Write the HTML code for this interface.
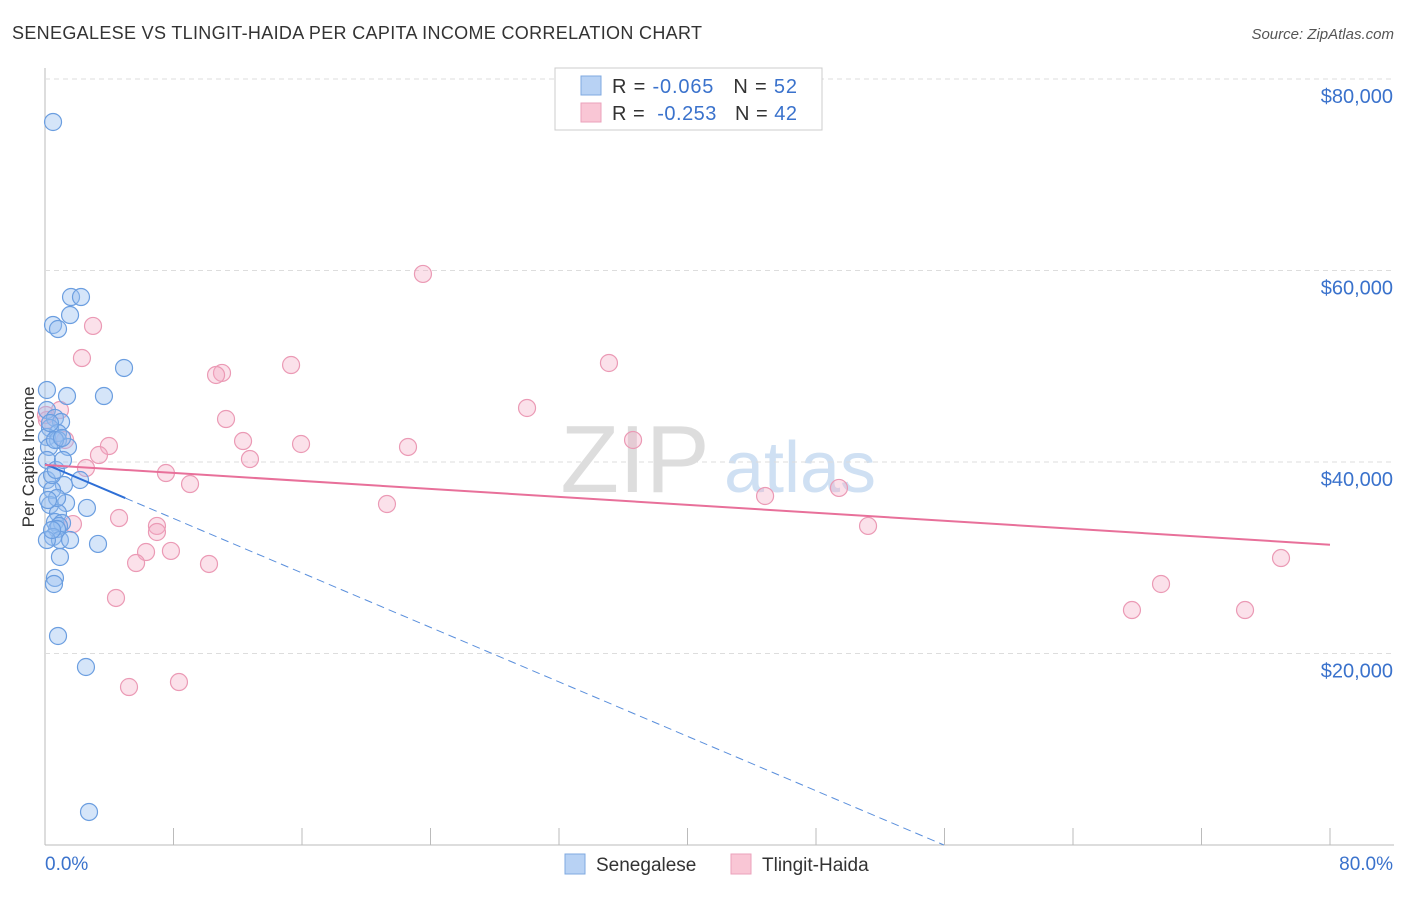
<!DOCTYPE html>
<html><head><meta charset="utf-8"><style>
body{margin:0;background:#fff;font-family:"Liberation Sans",sans-serif;}
svg text{font-family:"Liberation Sans",sans-serif;}
</style></head><body>
<svg id="c" width="1406" height="892">
<text x="12" y="39" font-size="18" fill="#333" textLength="690">SENEGALESE VS TLINGIT-HAIDA PER CAPITA INCOME CORRELATION CHART</text>
<text x="1394" y="39" font-size="15" fill="#555" font-style="italic" text-anchor="end">Source: ZipAtlas.com</text>
<text x="34" y="457" font-size="17" fill="#333" text-anchor="middle" transform="rotate(-90 34 457)">Per Capita Income</text>
<text x="635" y="492" font-size="96" fill="#ddd" font-family="Liberation Serif" text-anchor="middle">ZIP</text>
<text x="800" y="492" font-size="72" fill="#cfe0f3" text-anchor="middle">atlas</text>
<g id="grid"></g><g id="marks"></g>
<g>
<rect x="555" y="68" width="267" height="62" fill="#fff" stroke="#ccc"/>
<rect x="581" y="76" width="20" height="19" fill="#b8d2f4" stroke="#7fa9e0"/>
<rect x="581" y="103" width="20" height="19" fill="#f9c6d5" stroke="#eba2bb"/>
<text x="612" y="93" font-size="20" fill="#333" textLength="185">R = <tspan fill="#3a72cc">-0.065</tspan>&#160;&#160;&#160;N = <tspan fill="#3a72cc">52</tspan></text>
<text x="612" y="120" font-size="20" fill="#333" textLength="185">R = &#160;<tspan fill="#3a72cc">-0.253</tspan>&#160;&#160;&#160;N = <tspan fill="#3a72cc">42</tspan></text>
</g>
<g>
<rect x="565" y="854" width="20" height="20" fill="#b8d2f4" stroke="#7fa9e0"/>
<text x="596" y="871" font-size="19" fill="#333">Senegalese</text>
<rect x="731" y="854" width="20" height="20" fill="#f9c6d5" stroke="#eba2bb"/>
<text x="762" y="871" font-size="19" fill="#333">Tlingit-Haida</text>
</g>
</svg>
<script>
const yTicks=[20000,40000,60000,80000];
const yTickLabels=["$20,000","$40,000","$60,000","$80,000"];
const xTicks=[0,8,16,24,32,40,48,56,64,72,80];
const xEndLabels=["0.0%","80.0%"];
const blueX=[0.5,1.62,2.24,1.56,0.5,0.81,4.92,0.12,1.37,3.67,0.12,0.62,1.0,0.31,0.81,0.12,0.81,1.43,0.25,0.12,0.12,2.18,1.18,0.44,1.31,0.31,2.61,0.81,0.62,1.06,0.87,0.75,0.5,0.93,1.56,3.3,0.93,0.62,0.56,0.81,2.55,2.74,0.44,0.12,0.75,0.31,0.62,1.06,0.19,0.44,0.68,1.12];
const blueY=[75510,57230,57230,55350,54310,53890,49820,47520,46890,46890,45430,44600,44180,43550,43030,42610,42300,41570,41570,40210,38120,38120,37600,37080,35720,35510,35200,34670,33730,33630,33320,33000,32170,31850,31850,31440,30080,27890,27260,21830,18590,3450,38640,31850,36240,44070,42300,42510,36030,32900,39170,40210];
const pinkX=[23.53,2.99,2.3,15.32,35.11,11.02,10.65,0.93,30.01,11.27,0.12,3.98,12.33,15.94,22.6,36.61,3.36,12.76,2.55,7.53,9.03,44.83,49.43,21.29,4.61,1.74,6.97,6.97,51.24,6.29,7.84,5.67,10.21,76.95,69.48,67.67,74.71,4.42,5.23,8.34,0.06,1.25];
const pinkY=[59640,54210,50860,50130,50340,49300,49090,45430,45640,44490,44390,41670,42190,41880,41570,42300,40730,40310,39370,38850,37700,36450,37290,35610,34150,33520,33320,32690,33320,30600,30710,29450,29350,29970,27260,24540,24540,25800,16500,17020,44910,42300];
const blueTrend=[39790,-711];
const pinkTrend=[39690,-104.1];
const NS="http://www.w3.org/2000/svg";
const X=v=>45+v/80*1285, Y=v=>845-v/20000*191.5;
function mk(t,a,p){const e=document.createElementNS(NS,t);for(const k in a)e.setAttribute(k,a[k]);p.appendChild(e);return e;}
const g=document.getElementById('grid'),m=document.getElementById('marks');
let ax=mk('line',{x1:45,y1:68,x2:45,y2:845,stroke:'#bbb'},g);


let bx=mk('line',{x1:45,y1:845,x2:1394,y2:845,stroke:'#bbb'},g);


yTicks.forEach((v,i)=>{
 const l=mk('line',{x1:45,y1:Y(v),x2:1394,y2:Y(v),stroke:'#ddd','stroke-dasharray':'5,4'},g);
 
 
 const t=mk('text',{x:1393,y:Y(v)+24,'font-size':20,fill:'#3a72cc','text-anchor':'end'},g);
 t.textContent=yTickLabels[i];
 
 
});
xTicks.forEach(v=>{
 const l=mk('line',{x1:X(v),y1:828,x2:X(v),y2:845,stroke:'#bbb'},g);
 
 
});
[[0,'start',45],[80,'end',1393]].forEach((d,i)=>{
 const t=mk('text',{x:d[2],y:870,'font-size':19,fill:'#3a72cc','text-anchor':d[1]},g);
 t.textContent=xEndLabels[i];
 
 
});
pinkX.forEach((x,i)=>{
 const c=mk('circle',{cx:X(x),cy:Y(pinkY[i]),r:8.5,fill:'rgba(244,170,195,0.35)',stroke:'#eb9ab5','stroke-width':1.2},m);
 
 
});
blueX.forEach((x,i)=>{
 const c=mk('circle',{cx:X(x),cy:Y(blueY[i]),r:8.5,fill:'rgba(150,190,240,0.4)',stroke:'#6b9ee0','stroke-width':1.2},m);
 
 
});
const bz=-blueTrend[0]/blueTrend[1];
let t1=mk('line',{x1:X(0),y1:Y(blueTrend[0]),x2:X(5),y2:Y(blueTrend[0]+5*blueTrend[1]),stroke:'#2e6fd6','stroke-width':2},m);


let t2=mk('line',{x1:X(5),y1:Y(blueTrend[0]+5*blueTrend[1]),x2:X(bz),y2:Y(0),stroke:'#5a8fdc','stroke-width':1,'stroke-dasharray':'8,5'},m);


let t3=mk('line',{x1:X(0),y1:Y(pinkTrend[0]),x2:X(80),y2:Y(pinkTrend[0]+80*pinkTrend[1]),stroke:'#e8709a','stroke-width':2},m);


</script>
</body></html>
